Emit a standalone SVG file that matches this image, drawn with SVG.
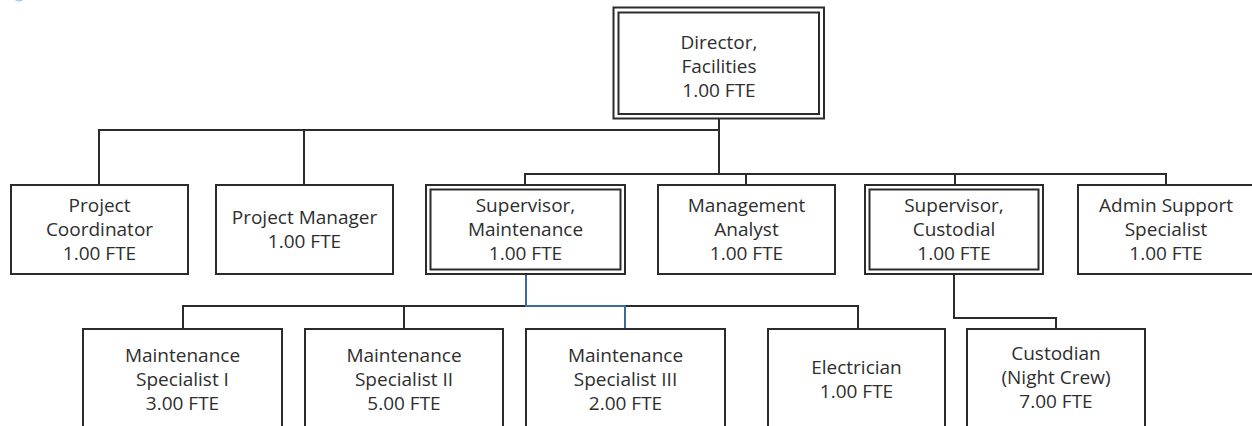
<svg xmlns="http://www.w3.org/2000/svg" width="1252" height="426" viewBox="0 0 1252 426">
  <style>
    .box { fill: #ffffff; stroke: #2b2b2b; stroke-width: 2; }
    .inner { fill: none; stroke: #2b2b2b; stroke-width: 2; }
    .lbl { font-family: "Open Sans", "Noto Sans", "DejaVu Sans", sans-serif; font-size: 19px; fill: #2e2e2e; text-anchor: middle; }
    .wire { fill: none; stroke: #2b2b2b; stroke-width: 2; }
    .wire-hl { fill: none; stroke: #3d6a9e; stroke-width: 2; }
  </style>
  <rect width="1252" height="426" fill="#ffffff"/>
  <ellipse cx="19" cy="-2" rx="5" ry="3.5" fill="#a8cdf0"/>

  <!-- reporting lines -->
  <g id="connectors">
    <path class="wire" d="M719 118 V174 M99 185 V130 H719 M304 130 V185"/>
    <path class="wire" d="M525 185 V174 H1166 V185 M746 174 V185 M955 174 V185"/>
    <path class="wire" d="M183 329 V306 H526 M625 306 H858 V329 M404 306 V329"/>
    <path class="wire-hl" d="M526 274 V306 H625 V329"/>
    <path class="wire" d="M954 274 V318 H1056 V329"/>
  </g>

  <g id="director">
    <rect class="box" x="613.5" y="7.5" width="210.5" height="111"/>
    <rect class="inner" x="618.5" y="12.5" width="200.5" height="101.5"/>
    <text class="lbl" x="719" y="48.5">Director,</text>
    <text class="lbl" x="719" y="72.5">Facilities</text>
    <text class="lbl" x="719" y="96.5">1.00 FTE</text>
  </g>

  <g id="project-coordinator">
    <rect class="box" x="11" y="185" width="177" height="89"/>
    <text class="lbl" x="99.5" y="211.5">Project</text>
    <text class="lbl" x="99.5" y="235.5">Coordinator</text>
    <text class="lbl" x="99.5" y="259.5">1.00 FTE</text>
  </g>

  <g id="project-manager">
    <rect class="box" x="216" y="185" width="177" height="89"/>
    <text class="lbl" x="304.5" y="223.5">Project Manager</text>
    <text class="lbl" x="304.5" y="247.5">1.00 FTE</text>
  </g>

  <g id="supervisor-maintenance">
    <rect class="box" x="426" y="185" width="199" height="89"/>
    <rect class="inner" x="430.5" y="189.5" width="190" height="80"/>
    <text class="lbl" x="525.5" y="211.5">Supervisor,</text>
    <text class="lbl" x="525.5" y="235.5">Maintenance</text>
    <text class="lbl" x="525.5" y="259.5">1.00 FTE</text>
  </g>

  <g id="management-analyst">
    <rect class="box" x="658" y="185" width="177" height="89"/>
    <text class="lbl" x="746.5" y="211.5">Management</text>
    <text class="lbl" x="746.5" y="235.5">Analyst</text>
    <text class="lbl" x="746.5" y="259.5">1.00 FTE</text>
  </g>

  <g id="supervisor-custodial">
    <rect class="box" x="865" y="185" width="178" height="89"/>
    <rect class="inner" x="869.5" y="189.5" width="169" height="80"/>
    <text class="lbl" x="954" y="211.5">Supervisor,</text>
    <text class="lbl" x="954" y="235.5">Custodial</text>
    <text class="lbl" x="954" y="259.5">1.00 FTE</text>
  </g>

  <g id="admin-support-specialist">
    <rect class="box" x="1078" y="185" width="178" height="89"/>
    <text class="lbl" x="1166" y="211.5">Admin Support</text>
    <text class="lbl" x="1166" y="235.5">Specialist</text>
    <text class="lbl" x="1166" y="259.5">1.00 FTE</text>
  </g>

  <g id="maintenance-specialist-1">
    <rect class="box" x="83" y="329" width="199" height="110"/>
    <text class="lbl" x="182.5" y="361.5">Maintenance</text>
    <text class="lbl" x="182.5" y="385.5">Specialist I</text>
    <text class="lbl" x="182.5" y="409.5">3.00 FTE</text>
  </g>

  <g id="maintenance-specialist-2">
    <rect class="box" x="305" y="329" width="198" height="110"/>
    <text class="lbl" x="404" y="361.5">Maintenance</text>
    <text class="lbl" x="404" y="385.5">Specialist II</text>
    <text class="lbl" x="404" y="409.5">5.00 FTE</text>
  </g>

  <g id="maintenance-specialist-3">
    <rect class="box" x="526" y="329" width="199" height="110"/>
    <text class="lbl" x="625.5" y="361.5">Maintenance</text>
    <text class="lbl" x="625.5" y="385.5">Specialist III</text>
    <text class="lbl" x="625.5" y="409.5">2.00 FTE</text>
  </g>

  <g id="electrician">
    <rect class="box" x="768" y="329" width="177" height="110"/>
    <text class="lbl" x="856.5" y="374">Electrician</text>
    <text class="lbl" x="856.5" y="398">1.00 FTE</text>
  </g>

  <g id="custodian-night-crew">
    <rect class="box" x="967" y="329" width="178" height="110"/>
    <text class="lbl" x="1056" y="359.5">Custodian</text>
    <text class="lbl" x="1056" y="383.5">(Night Crew)</text>
    <text class="lbl" x="1056" y="407.5">7.00 FTE</text>
  </g>
</svg>
